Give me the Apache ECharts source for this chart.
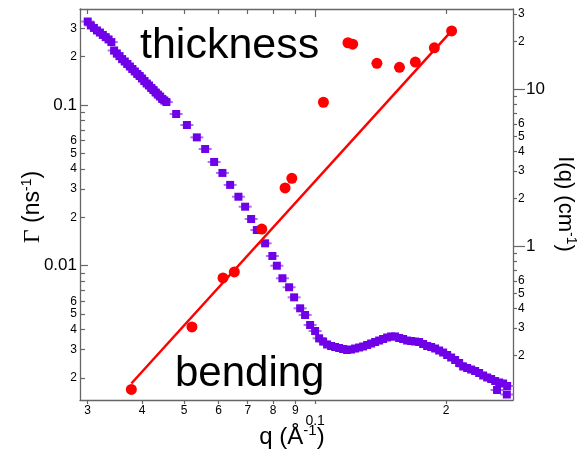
<!DOCTYPE html>
<html><head><meta charset="utf-8">
<script src="https://cdn.jsdelivr.net/npm/echarts@6/dist/echarts.min.js"></script>
<style>html,body{margin:0;padding:0;background:#fff}#c{width:577px;height:452px}</style>
</head><body><div id="c"></div>
<script>
// Relaxation rate Γ (left axis)
const redQ = [0.0378, 0.0521, 0.0614, 0.0652, 0.0754, 0.0853, 0.0884, 0.1045, 0.119, 0.122, 0.1387, 0.1563, 0.170, 0.188, 0.206];
const redG = [0.00170, 0.00416, 0.00839, 0.00914, 0.0169, 0.0305, 0.0350, 0.104, 0.244, 0.239, 0.1817, 0.1716, 0.185, 0.227, 0.289];
// power-law fit (end points)
const fitQ = [0.0378, 0.206];
const fitG = [0.00185, 0.289];
// scattering intensity I(q) (right axis)
const purpleQ = [
 0.0300,0.0305,0.0310,0.0315,0.0320,0.0325,0.0330,0.0335,0.0340,0.0345,0.0350,0.0355,0.0360,0.0365,0.0370,0.0375,
 0.0380,0.0385,0.0390,0.0395,0.0400,0.0405,0.0410,0.0415,0.0420,0.0425,0.0430,0.0435,0.0440,0.0445,0.0450,0.0455,
 0.04792,0.05072,0.05346,0.05587,0.05859,0.06122,0.06377,0.06663,0.06904,0.07127,0.07345,0.07675,0.07976,0.08166,
 0.08410,0.08714,0.08948,0.09238,0.09484,0.09739,0.1000,0.10214,
 0.10433,0.10656,0.10883,0.11117,0.11355,0.11598,0.11846,0.12100,0.12359,0.12624,0.12894,0.13170,0.13452,0.13740,
 0.14035,0.14335,0.14642,0.14956,0.15276,0.15603,0.15937,0.16278,0.16627,0.16983,0.17346,0.17718,0.18097,0.18484,
 0.18880,0.19284,0.19697,0.20119,0.20549,0.20989,0.21439,0.21898,0.22366,0.22845,0.23334,0.23834,0.24344,0.24865,
 0.25398,0.25941,0.26497,0.27064,0.27644,0.2620,0.2759];
const purpleI = [
 26.9,25.4,24.5,23.6,22.9,22.1,21.4,20.7,19.9,17.6,16.8,16.2,15.5,14.97,14.43,13.91,
 13.41,12.93,12.46,12.10,11.67,11.24,10.84,10.53,10.15,9.85,9.50,9.22,8.96,8.64,8.45,8.26,
 6.93,5.90,4.92,4.15,3.43,2.92,2.45,2.06,1.780,1.486,1.264,1.040,0.864,0.749,
 0.623,0.546,0.471,0.401,0.3635,0.314,0.2875,0.2583,
 0.2464,0.2358,0.2307,0.2273,0.2240,0.2208,0.2176,0.2192,0.2224,0.2257,0.2291,0.2341,0.2393,0.2446,
 0.2500,0.2557,0.2614,0.2653,0.2653,0.2594,0.2557,0.2500,0.2482,0.2464,0.2446,0.2375,0.2307,0.2273,
 0.2224,0.2160,0.2097,0.2022,0.1949,0.1879,0.1798,0.1708,0.1671,0.1634,0.1599,0.1553,0.1497,0.1454,
 0.1422,0.1380,0.1351,0.1331,0.1283,0.1210,0.1133];
// ticks and labels
const xTicksMinor = [0.03,0.04,0.05,0.06,0.07,0.08,0.09,0.2];
const xLabelVals = [0.03,0.04,0.05,0.06,0.07,0.08,0.09,0.2];
const xMajor = [0.1];
const gTicksMinor = [0.002,0.003,0.004,0.005,0.006,0.007,0.008,0.009,0.02,0.03,0.04,0.05,0.06,0.07,0.08,0.09,0.2,0.3];
const gLabelVals = [0.002,0.003,0.004,0.005,0.006,0.02,0.03,0.04,0.05,0.06,0.2,0.3];
const gMajor = [0.01,0.1];
const iTicksMinor = [0.2,0.3,0.4,0.5,0.6,0.7,0.8,0.9,2,3,4,5,6,7,8,9,20,30];
const iLabelVals = [0.2,0.3,0.4,0.5,0.6,2,3,4,5,6,20,30];
const iMajor = [1,10];

const F = '"Liberation Sans", Arial, Helvetica, sans-serif';
const AX = '#666';
const X_MIN = 0.0288, X_MAX = 0.2851, G_MIN = 0.00146, G_MAX = 0.3957, I_MIN = 0.1045, I_MAX = 32.33;
function digit(v){ const e = Math.floor(Math.log10(v) + 1e-9); return String(Math.round(v / Math.pow(10, e))); }
function fmtMajor(v){ return String(parseFloat(v.toPrecision(3))); }

function ax(o){
  return Object.assign({type:'log', logBase:10, splitLine:{show:false}, minorTick:{show:false}, minorSplitLine:{show:false}}, o);
}
function line(show){ return {show:show, onZero:false, lineStyle:{color:AX, width:1.3}}; }
function tick(vals, inside, len){ return {show:true, inside:inside, length:len, customValues:vals, lineStyle:{color:AX, width:1.2}}; }
function lab(vals, fmt, size, margin, extra){ return Object.assign({show:true, customValues:vals, formatter:fmt, fontSize:size, margin:margin, color:'#000', fontFamily:F}, extra||{}); }
const noLab = {show:false};

const chart = echarts.init(document.getElementById('c'), null, {renderer:'canvas'});
chart.setOption({
  animation:false,
  backgroundColor:'#fff',
  grid:{left:80, right:64, top:9, bottom:52, containLabel:false},
  xAxis:[
    ax({position:'bottom', min:X_MIN, max:X_MAX, axisLine:line(true), axisTick:tick(xTicksMinor.concat(xMajor), false, 4), axisLabel:lab(xLabelVals, digit, 12, 5)}),
    ax({position:'bottom', min:X_MIN, max:X_MAX, axisLine:line(false), axisTick:{show:false}, axisLabel:lab(xMajor, fmtMajor, 14, 14)}),
    ax({position:'top', min:X_MIN, max:X_MAX, axisLine:line(true), axisTick:tick(xTicksMinor, true, 5), axisLabel:noLab}),
    ax({position:'top', min:X_MIN, max:X_MAX, axisLine:line(false), axisTick:tick(xMajor, true, 8), axisLabel:noLab})
  ],
  yAxis:[
    ax({position:'left', min:G_MIN, max:G_MAX, axisLine:line(true), axisTick:tick(gTicksMinor, true, 5), axisLabel:lab(gLabelVals, digit, 12, 3)}),
    ax({position:'left', min:G_MIN, max:G_MAX, axisLine:line(false), axisTick:tick(gMajor, true, 8), axisLabel:lab(gMajor, fmtMajor, 17, 3)}),
    ax({position:'right', min:I_MIN, max:I_MAX, axisLine:line(true), axisTick:tick(iTicksMinor, false, 4), axisLabel:lab(iLabelVals, digit, 12, 5)}),
    ax({position:'right', min:I_MIN, max:I_MAX, axisLine:line(false), axisTick:tick(iMajor, false, 12), axisLabel:lab(iMajor, fmtMajor, 17, 13)})
  ],
  series:[
    {type:'scatter', xAxisIndex:0, yAxisIndex:2, symbol:'rect', symbolSize:[13,2],
     itemStyle:{color:'#a872f5', opacity:1}, data:purpleQ.map((q,i)=>[q,purpleI[i]]), z:2},
    {type:'scatter', xAxisIndex:0, yAxisIndex:2, symbol:'rect', symbolSize:8,
     itemStyle:{color:'#6f00e8', opacity:1}, data:purpleQ.map((q,i)=>[q,purpleI[i]]), z:3},
    {type:'line', xAxisIndex:0, yAxisIndex:0, showSymbol:false, symbol:'none',
     lineStyle:{color:'#ff0000', width:2.5}, data:fitQ.map((q,i)=>[q,fitG[i]]), z:4},
    {type:'scatter', xAxisIndex:0, yAxisIndex:0, symbol:'circle', symbolSize:11,
     itemStyle:{color:'#ff0000', opacity:1}, data:redQ.map((q,i)=>[q,redG[i]]), z:5}
  ],
  graphic:[
    {type:'text', x:140, y:46, z:10, style:{text:'thickness', fontSize:43, fontFamily:F, fill:'#000', align:'left', verticalAlign:'middle'}},
    {type:'text', x:175, y:374, z:10, style:{text:'bending', fontSize:42, fontFamily:F, fill:'#000', align:'left', verticalAlign:'middle'}},
    {type:'text', x:33, y:207, rotation:Math.PI/2, z:10, style:{
      text:'{g|Γ}{a| (ns}{s|-1}{a|)}', align:'center', verticalAlign:'middle',
      rich:{g:{fontSize:24, fontFamily:'"Liberation Serif", serif', fill:'#000', lineHeight:26},
            a:{fontSize:23, fontFamily:F, fill:'#000', lineHeight:26},
            s:{fontSize:14, fontFamily:F, fill:'#000', verticalAlign:'top', lineHeight:14}}}},
    {type:'text', x:565, y:204, rotation:-Math.PI/2, z:10, style:{
      text:'{a|I(q) (cm}{s|-1}{a|)}', align:'center', verticalAlign:'middle',
      rich:{a:{fontSize:22, fontFamily:F, fill:'#000', lineHeight:26},
            s:{fontSize:14, fontFamily:F, fill:'#000', verticalAlign:'top', lineHeight:14}}}},
    {type:'text', x:292, y:437, z:10, style:{
      text:'{a|q (Å}{s|-1}{a|)}', align:'center', verticalAlign:'middle',
      rich:{a:{fontSize:24, fontFamily:F, fill:'#000', lineHeight:28},
            s:{fontSize:15, fontFamily:F, fill:'#000', verticalAlign:'top', lineHeight:15}}}}
  ]
});
</script></body></html>
